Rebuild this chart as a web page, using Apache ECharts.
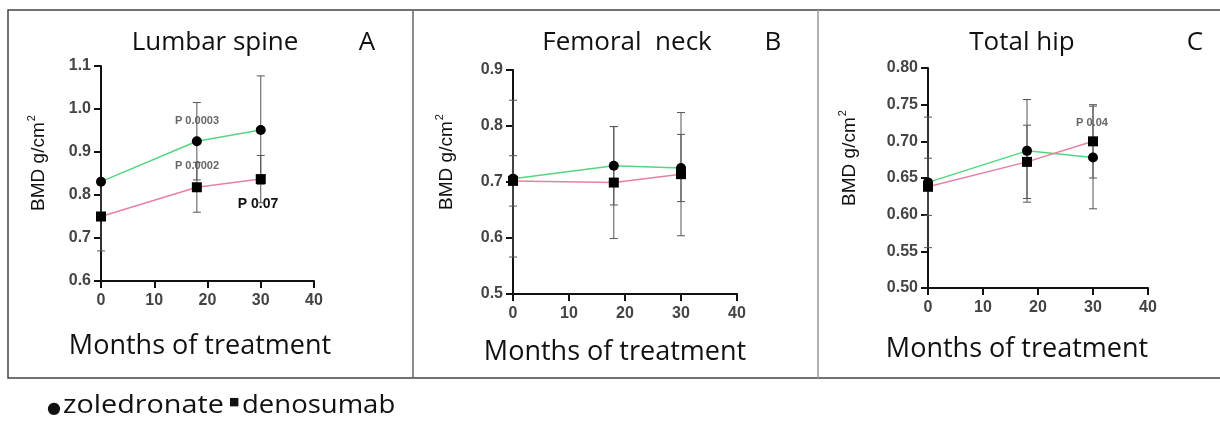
<!DOCTYPE html>
<html>
<head>
<meta charset="utf-8">
<script src="https://cdn.jsdelivr.net/npm/echarts@6/dist/echarts.min.js"></script>
<style>
  html, body { margin: 0; padding: 0; background: #fff; }
  #chart { width: 1220px; height: 421px; }
</style>
</head>
<body>
<div id="chart"></div>
<script>
const months = [0, 18, 30]
const xTicks = [0, 10, 20, 30, 40]

// Lumbar spine
const lumbarZol = [0.831, 0.925, 0.951]
const lumbarDen = [0.750, 0.818, 0.837]
const lumbarZolErr = [null, 0.090, 0.126]
const lumbarDenErr = [0.080, 0.058, 0.055]

// Femoral neck
const neckZol = [0.706, 0.729, 0.725]
const neckDen = [0.702, 0.699, 0.714]
const neckZolErr = [0.140, 0.070, 0.060]
const neckDenErr = [0.045, 0.100, 0.110]

// Total hip
const hipZol = [0.644, 0.687, 0.678]
const hipDen = [0.638, 0.672, 0.700]
const hipZolErr = [0.089, 0.070, 0.070]
const hipDenErr = [0.039, 0.050, 0.050]

const panels = [
  { title: 'Lumbar spine', letter: 'A', zol: lumbarZol, den: lumbarDen, zolErr: lumbarZolErr, denErr: lumbarDenErr,
    yMin: 0.6, yMax: 1.1, yStep: 0.1, dec: 1,
    grid: { left: 101, top: 66, width: 213, height: 215 }, titleX: 215, letterX: 367, nameX: 39, nameY: 163, xNameX: 200, xNameY: 346 },
  { title: 'Femoral  neck', letter: 'B', zol: neckZol, den: neckDen, zolErr: neckZolErr, denErr: neckDenErr,
    yMin: 0.5, yMax: 0.9, yStep: 0.1, dec: 1,
    grid: { left: 513, top: 70, width: 224, height: 224 }, titleX: 627, letterX: 773, nameX: 447, nameY: 162, xNameX: 615, xNameY: 352 },
  { title: 'Total hip', letter: 'C', zol: hipZol, den: hipDen, zolErr: hipZolErr, denErr: hipDenErr,
    yMin: 0.5, yMax: 0.8, yStep: 0.05, dec: 2,
    grid: { left: 928, top: 68, width: 220, height: 220 }, titleX: 1022, letterX: 1195, nameX: 850, nameY: 158, xNameX: 1017, xNameY: 349 },
]

const pLabels = [
  { text: 'P 0.0003', x: 197, y: 121, size: 11, color: '#666' },
  { text: 'P 0.0002', x: 197, y: 166, size: 11, color: '#666' },
  { text: 'P 0.07', x: 258, y: 204, size: 14, color: '#111' },
  { text: 'P 0.04', x: 1092, y: 123, size: 11, color: '#666' },
]

const green = '#52d67e'
const pink = '#e8809e'

function errData(vals, errs) {
  return months.map((m, i) => errs[i] == null ? null : [m, vals[i] - errs[i], vals[i] + errs[i]]).filter(d => d)
}

function errorSeries(idx, data) {
  return {
    type: 'custom',
    xAxisIndex: idx,
    yAxisIndex: idx,
    z: 1,
    data: data,
    renderItem: function (params, api) {
      const lo = api.coord([api.value(0), api.value(1)])
      const hi = api.coord([api.value(0), api.value(2)])
      const w = 4
      const style = { stroke: '#555', lineWidth: 1 }
      return {
        type: 'group',
        children: [
          { type: 'line', shape: { x1: hi[0], y1: hi[1], x2: lo[0], y2: lo[1] }, style: style },
          { type: 'line', shape: { x1: hi[0] - w, y1: hi[1], x2: hi[0] + w, y2: hi[1] }, style: style },
          { type: 'line', shape: { x1: lo[0] - w, y1: lo[1], x2: lo[0] + w, y2: lo[1] }, style: style },
        ],
      }
    },
  }
}

const grids = [], xAxes = [], yAxes = [], series = [], graphics = []

panels.forEach((p, i) => {
  grids.push(p.grid)
  xAxes.push({
    type: 'value', gridIndex: i, min: 0, max: 40, interval: 10,
    axisLine: { lineStyle: { color: '#111', width: 2 } },
    axisTick: { show: true, length: 7, lineStyle: { color: '#111', width: 2 } },
    axisLabel: { color: '#444', fontWeight: 'bold', fontSize: 16, fontFamily: 'Liberation Sans', margin: 12,
      formatter: v => xTicks.includes(v) ? String(v) : '' },
    splitLine: { show: false },
  })
  yAxes.push({
    type: 'value', gridIndex: i, min: p.yMin, max: p.yMax, interval: p.yStep,
    axisLine: { show: true, lineStyle: { color: '#111', width: 2 } },
    axisTick: { show: true, length: 7, lineStyle: { color: '#111', width: 2 } },
    axisLabel: { color: '#444', fontWeight: 'bold', fontSize: 16, fontFamily: 'Liberation Sans', margin: 10,
      formatter: v => v.toFixed(p.dec) },
    splitLine: { show: false },
  })
  series.push(errorSeries(i, errData(p.zol, p.zolErr)))
  series.push(errorSeries(i, errData(p.den, p.denErr)))
  series.push({
    type: 'line', xAxisIndex: i, yAxisIndex: i, z: 3,
    data: months.map((m, k) => [m, p.zol[k]]),
    symbol: 'circle', symbolSize: 10,
    itemStyle: { color: '#000' },
    lineStyle: { color: green, width: 1.5 },
  })
  series.push({
    type: 'line', xAxisIndex: i, yAxisIndex: i, z: 3,
    data: months.map((m, k) => [m, p.den[k]]),
    symbol: 'rect', symbolSize: 10,
    itemStyle: { color: '#000' },
    lineStyle: { color: pink, width: 1.5 },
  })

  graphics.push({
    type: 'text', x: p.titleX, y: 43,
    style: { text: p.title, fontSize: 26, fontFamily: 'Open Sans', fill: '#111', align: 'center', verticalAlign: 'middle' },
  })
  graphics.push({
    type: 'text', x: p.letterX, y: 43,
    style: { text: p.letter, fontSize: 26, fontFamily: 'Open Sans', fill: '#111', align: 'center', verticalAlign: 'middle' },
  })
  graphics.push({
    type: 'text', x: p.nameX, y: p.nameY, rotation: Math.PI / 2,
    style: {
      text: 'BMD g/cm{sup|2}', fontSize: 19, fontFamily: 'Liberation Sans', fill: '#111', align: 'center', verticalAlign: 'middle',
      rich: { sup: { fontSize: 11, fontFamily: 'Liberation Sans', verticalAlign: 'top', padding: [0, 0, 14, 1], fill: '#111' } },
    },
  })
  graphics.push({
    type: 'text', x: p.xNameX, y: p.xNameY,
    style: { text: 'Months of treatment', fontSize: 27, fontFamily: 'Open Sans', fill: '#111', align: 'center', verticalAlign: 'middle' },
  })
})

pLabels.forEach(l => {
  graphics.push({
    type: 'text', x: l.x, y: l.y,
    style: { text: l.text, fontSize: l.size, fontWeight: 'bold', fontFamily: 'Liberation Sans', fill: l.color, align: 'center', verticalAlign: 'middle' },
  })
})

// frame and dividers
graphics.push({ type: 'rect', shape: { x: 8, y: 10, width: 1230, height: 368 }, style: { fill: 'none', stroke: '#444', lineWidth: 1.5 } })
graphics.push({ type: 'line', shape: { x1: 413, y1: 10, x2: 413, y2: 378 }, style: { stroke: '#666', lineWidth: 1.5 } })
graphics.push({ type: 'line', shape: { x1: 818, y1: 10, x2: 818, y2: 378 }, style: { stroke: '#999', lineWidth: 1.5 } })

// legend line below the panels
graphics.push({ type: 'text', x: 47, y: 409, style: { text: '\u25CF', fontSize: 16, fontFamily: 'DejaVu Sans', fill: '#111', verticalAlign: 'middle' } })
graphics.push({ type: 'text', x: 63, y: 406, scaleX: 1.15, style: { text: 'zoledronate', fontSize: 25, fontFamily: 'Open Sans', fill: '#111', verticalAlign: 'middle' } })
graphics.push({ type: 'text', x: 229, y: 402, style: { text: '\u25A0', fontSize: 11, fontFamily: 'DejaVu Sans', fill: '#111', verticalAlign: 'middle' } })
graphics.push({ type: 'text', x: 242, y: 406, scaleX: 1.1, style: { text: 'denosumab', fontSize: 25, fontFamily: 'Open Sans', fill: '#111', verticalAlign: 'middle' } })

const chart = echarts.init(document.getElementById('chart'), null, { renderer: 'canvas' })
chart.setOption({
  animation: false,
  backgroundColor: '#fff',
  grid: grids,
  xAxis: xAxes,
  yAxis: yAxes,
  series: series,
  graphic: graphics,
})
</script>
</body>
</html>
